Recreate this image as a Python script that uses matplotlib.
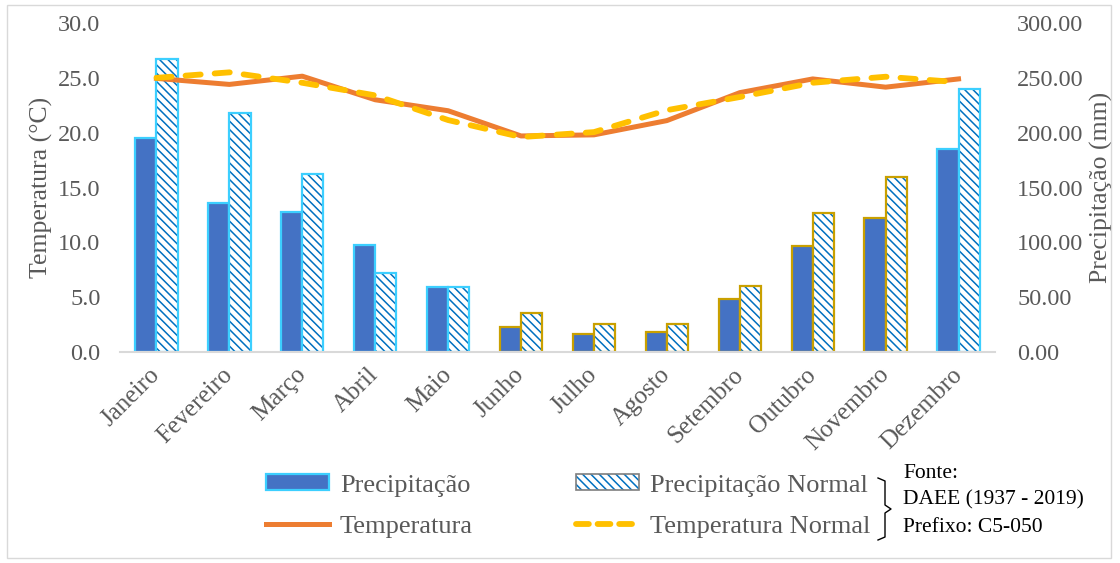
import numpy as np
import matplotlib
matplotlib.use("Agg")
import matplotlib.pyplot as plt
from matplotlib.patches import Patch, Rectangle
from matplotlib.lines import Line2D
from matplotlib.legend_handler import HandlerTuple

plt.rcParams["font.family"] = ["Liberation Serif", "DejaVu Serif"]
plt.rcParams["hatch.linewidth"] = 1.1

meses = ["Janeiro", "Fevereiro", "Março", "Abril", "Maio", "Junho",
         "Julho", "Agosto", "Setembro", "Outubro", "Novembro", "Dezembro"]

# precipitação mensal (mm)
precip = [195, 136, 128, 98, 59, 23, 16, 18.5, 48.6, 96.6, 122, 185]
precip_normal = [267, 218, 162, 72, 59, 36, 25.5, 25.5, 60, 127, 160, 240]

# temperatura média (°C)
temp = [24.95, 24.4, 25.15, 23.0, 22.0, 19.7, 19.8, 21.1, 23.65, 24.9, 24.15, 24.9]
temp_normal = [25.0, 25.5, 24.55, 23.4, 21.15, 19.6, 20.05, 22.05, 23.25, 24.55, 25.1, 24.6]

# estação chuvosa (azul claro) x estação seca (dourado)
contorno = ["#3CCFFF"] * 5 + ["#C9A000"] * 6 + ["#3CCFFF"]

cinza = "#595959"
hatch = "\\\\\\\\"
W, H = 1120, 563

fig = plt.figure(figsize=(W / 100, H / 100), dpi=100)
ax = fig.add_axes([120 / W, 1 - 352 / H, 875 / W, 329 / H])
ax2 = ax.twinx()

x = np.arange(len(meses))
w = 0.29

# barras no eixo da direita
ax2.bar(x - w / 2, precip, w, color="#4472C4", edgecolor=contorno, linewidth=1.6, zorder=2)
ax2.bar(x + w / 2, precip_normal, w, color="white", edgecolor="#0070C0",
        hatch=hatch, linewidth=0, zorder=2)
ax2.bar(x + w / 2, precip_normal, w, color="none", edgecolor=contorno, linewidth=1.6, zorder=3)

# linhas de temperatura por cima das barras
ax.set_zorder(ax2.get_zorder() + 1)
ax.patch.set_visible(False)
ax.plot(x, temp, color="#ED7D31", lw=3.6, solid_joinstyle="round", zorder=4)
ax.plot(x, temp_normal, color="#FFC000", lw=4.2, dashes=(2.6, 2.4),
        dash_capstyle="round", zorder=5)

ax.set_xlim(-0.5, 11.5)
ax.set_ylim(0, 30)
ax2.set_ylim(0, 300)
ax.set_yticks(np.arange(0, 31, 5))
ax.set_yticklabels([f"{v:.1f}" for v in np.arange(0, 31, 5)])
ax2.set_yticks(np.arange(0, 301, 50))
ax2.set_yticklabels([f"{v:.2f}" for v in np.arange(0, 301, 50)])

ax.set_xticks(x)
ax.set_xticklabels(meses, rotation=45, ha="right", va="center",
                   rotation_mode="anchor", fontsize=18, color=cinza)

for a in (ax, ax2):
    for s in a.spines.values():
        s.set_visible(False)
    a.tick_params(length=0, labelsize=17.5, labelcolor=cinza)
ax.spines["bottom"].set_visible(True)
ax.spines["bottom"].set_color("#D9D9D9")
ax.spines["bottom"].set_linewidth(1.5)
ax.tick_params(axis="y", pad=14)
ax.tick_params(axis="x", pad=14, labelsize=18)
ax2.tick_params(axis="y", pad=16)

ax.set_ylabel("Temperatura (°C)", fontsize=18.5, color=cinza, va="center")
ax.yaxis.set_label_coords(-0.09, 0.5)
ax2.set_ylabel("Precipitação (mm)", fontsize=18.5, color=cinza, rotation=90, va="center")
ax2.yaxis.set_label_coords(1.122, 0.5)

hatch_leg = (Patch(facecolor="white", edgecolor="#0070C0", hatch=hatch, linewidth=0),
             Patch(facecolor="none", edgecolor="#7F7F7F", linewidth=1.2))
handles = [
    Patch(facecolor="#4472C4", edgecolor="#3CCFFF", linewidth=1.6),
    Line2D([], [], color="#ED7D31", lw=3.6),
    hatch_leg,
    Line2D([], [], color="#FFC000", lw=4.2, dashes=(2.2, 1.5), dash_capstyle="round"),
]
labels = ["Precipitação", "Temperatura", "Precipitação Normal", "Temperatura Normal"]
leg = fig.legend(handles, labels, ncol=2, loc="center left",
                 bbox_to_anchor=(266 / W, 1 - 506 / H), frameon=False,
                 fontsize=19, handlelength=2.4, handleheight=0.55,
                 handletextpad=0.4, columnspacing=3.9, labelspacing=0.7,
                 borderpad=0, borderaxespad=0,
                 handler_map={tuple: HandlerTuple(ndivide=1)})
for t in leg.get_texts():
    t.set_color(cinza)


def px(xp, yp):
    return xp / W, 1 - yp / H


# chave e fonte dos dados
bx = [878, 885, 885, 891, 885, 885, 878]
by = [478, 481, 505, 509, 513, 537, 540]
fig.add_artist(Line2D([v / W for v in bx], [1 - v / H for v in by],
                      color="black", lw=1.0, transform=fig.transFigure))
for yp, txt in [(474, "Fonte:"), (500, "DAEE (1937 - 2019)"), (527, "Prefixo: C5-050")]:
    fig.text(*px(903, yp), txt, fontsize=15.5, va="center", ha="left", color="black")

# borda da área do gráfico
fig.add_artist(Rectangle(px(7, 558), 1104 / W, 553 / H, transform=fig.transFigure,
                         fill=False, edgecolor="#D9D9D9", lw=1.0))

fig.savefig("out.png", dpi=100)
